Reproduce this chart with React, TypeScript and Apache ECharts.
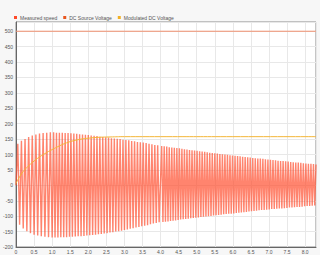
import React, { useEffect, useRef } from "react";
import * as echarts from "echarts";

const seriesNames = ["Measured speed", "DC Source Voltage", "Modulated DC Voltage"];

const xTicks = [0, 0.5, 1.0, 1.5, 2.0, 2.5, 3.0, 3.5, 4.0, 4.5, 5.0, 5.5, 6.0, 6.5, 7.0, 7.5, 8.0];

// Measured speed: successive extremes of the oscillation [time, value]
const measuredSpeed: [number, number][] = [
  [0, 0],
  [0.05, 135], [0.1, -128], [0.15, 145], [0.2, -140], [0.25, 150], [0.3, -149],
  [0.35, 157], [0.4, -155], [0.45, 162], [0.5, -160], [0.55, 165], [0.6, -163],
  [0.65, 168], [0.7, -165], [0.75, 170], [0.8, -167], [0.85, 171], [0.9, -168],
  [0.95, 172], [1.0, -169],
  [1.04, 172], [1.08, -169], [1.12, 171], [1.16, -169], [1.2, 171], [1.24, -168],
  [1.28, 171], [1.32, -168], [1.36, 170], [1.4, -168], [1.44, 170], [1.48, -167],
  [1.52, 169], [1.56, -167], [1.6, 168], [1.64, -166], [1.68, 167], [1.72, -165],
  [1.76, 166], [1.8, -165], [1.84, 165], [1.88, -164], [1.92, 164], [1.96, -163],
  [2.0, 163], [2.04, -162], [2.08, 162], [2.12, -161], [2.16, 161], [2.2, -160],
  [2.24, 160], [2.28, -159], [2.32, 158], [2.36, -158], [2.4, 157], [2.44, -156],
  [2.48, 156], [2.52, -155], [2.56, 155], [2.6, -153], [2.64, 153], [2.68, -152],
  [2.72, 152], [2.76, -150], [2.8, 151], [2.84, -149], [2.88, 150], [2.92, -147],
  [2.96, 148], [3.0, -145], [3.04, 147], [3.08, -143], [3.12, 146], [3.16, -141],
  [3.2, 144], [3.24, -139], [3.28, 143], [3.32, -137], [3.36, 141], [3.4, -135],
  [3.44, 140], [3.48, -133], [3.52, 139], [3.56, -131], [3.6, 137], [3.64, -129],
  [3.68, 135], [3.72, -126], [3.76, 133], [3.8, -124], [3.84, 131], [3.88, -122],
  [3.92, 130], [3.96, -120],
  [4.03, 128], [4.065, -119], [4.1, 127], [4.135, -118], [4.17, 126], [4.205, -117],
  [4.24, 124], [4.275, -116], [4.31, 123], [4.345, -115], [4.38, 122], [4.415, -114],
  [4.45, 121], [4.485, -112], [4.52, 120], [4.555, -111], [4.59, 119], [4.625, -110],
  [4.66, 117], [4.695, -109], [4.73, 116], [4.765, -108], [4.8, 115], [4.835, -107],
  [4.87, 114], [4.905, -106], [4.94, 113], [4.975, -105], [5.01, 112], [5.045, -104],
  [5.08, 111], [5.115, -103], [5.15, 110], [5.185, -102], [5.22, 109], [5.255, -101],
  [5.29, 107], [5.325, -100], [5.36, 106], [5.395, -99], [5.43, 105], [5.465, -98],
  [5.5, 104], [5.535, -97], [5.57, 103], [5.605, -96], [5.64, 102], [5.675, -95],
  [5.71, 101], [5.745, -94], [5.78, 100], [5.815, -93], [5.85, 99], [5.885, -92],
  [5.92, 98], [5.955, -92], [5.99, 97], [6.025, -91], [6.06, 96], [6.095, -90],
  [6.13, 95], [6.165, -89], [6.2, 94], [6.235, -88], [6.27, 93], [6.305, -87],
  [6.34, 92], [6.375, -86], [6.41, 91], [6.445, -85], [6.48, 90], [6.515, -84],
  [6.55, 89], [6.585, -83], [6.62, 88], [6.655, -82], [6.69, 87], [6.725, -81],
  [6.76, 87], [6.795, -80], [6.83, 86], [6.865, -80], [6.9, 85], [6.935, -79],
  [6.97, 84], [7.005, -78], [7.04, 83], [7.075, -77], [7.11, 82], [7.145, -77],
  [7.18, 81], [7.215, -76], [7.25, 80], [7.285, -75], [7.32, 79], [7.355, -75],
  [7.39, 79], [7.425, -74], [7.46, 78], [7.495, -73], [7.53, 77], [7.565, -72],
  [7.6, 76], [7.635, -72], [7.67, 75], [7.705, -71], [7.74, 74], [7.775, -70],
  [7.81, 74], [7.845, -70], [7.88, 73], [7.915, -69], [7.95, 72], [7.985, -68],
  [8.02, 71], [8.055, -67], [8.09, 70], [8.125, -67], [8.16, 70], [8.195, -66],
  [8.23, 69], [8.265, -65], [8.3, 68],
];

const dcSourceVoltage: [number, number][] = [
  [0, 500],
  [8.3, 500],
];

const modulatedDcVoltage: [number, number][] = [
  [0, 6], [0.1, 28], [0.2, 45], [0.3, 58], [0.4, 69], [0.5, 79], [0.6, 88],
  [0.7, 96], [0.8, 103], [0.9, 110], [1.0, 116], [1.2, 128], [1.4, 138],
  [1.6, 145], [1.8, 150], [2.0, 153], [2.3, 156], [2.6, 157], [3.0, 158],
  [4.0, 158], [6.0, 158], [8.3, 158],
];

const colors = ["#ff4a2a", "#e8561e", "#f2b024"];

export default function App() {
  const ref = useRef<HTMLDivElement>(null);
  useEffect(() => {
    document.body.style.margin = "0";
    const chart = echarts.init(ref.current!, null, { renderer: "svg" });
    chart.setOption({
      animation: false,
      backgroundColor: "#f7f7f7",
      textStyle: { fontFamily: "Liberation Sans, Arial, sans-serif" },
      legend: {
        left: 14,
        top: 15,
        icon: "rect",
        itemWidth: 3,
        itemHeight: 3,
        itemGap: 6,
        padding: 0,
        textStyle: { fontSize: 5, color: "#555", padding: [0, 0, 0, -2] },
        data: seriesNames,
      },
      grid: {
        left: 15,
        right: 4,
        top: 22,
        bottom: 8,
        show: true,
        backgroundColor: "#ffffff",
        borderColor: "#8a8a8a",
        borderWidth: 1,
      },
      xAxis: {
        type: "value",
        min: 0,
        max: 8.3,
        interval: 0.5,
        axisLine: { show: true, onZero: false, lineStyle: { color: "#666" } },
        axisTick: { show: false },
        splitLine: { show: true, lineStyle: { color: "#e8e8e8", width: 1 } },
        axisLabel: {
          fontSize: 5,
          color: "#555",
          margin: 2,
          showMaxLabel: false,
          formatter: (v: number) => (xTicks.indexOf(v) === 0 ? "0" : v.toFixed(1)),
        },
      },
      yAxis: {
        type: "value",
        min: -200,
        max: 530,
        interval: 50,
        axisLine: { show: true, onZero: false, lineStyle: { color: "#666" } },
        axisTick: { show: false },
        splitLine: { show: true, lineStyle: { color: "#e8e8e8", width: 1 } },
        axisLabel: { fontSize: 5, color: "#555", margin: 3, showMaxLabel: false },
      },
      series: [
        {
          name: seriesNames[0],
          type: "line",
          data: measuredSpeed,
          showSymbol: false,
          color: colors[0],
          lineStyle: { width: 1.4, color: "#ff5030", opacity: 0.7 },
          z: 2,
        },
        {
          name: seriesNames[1],
          type: "line",
          data: dcSourceVoltage,
          showSymbol: false,
          color: colors[1],
          lineStyle: { width: 1, color: "#f09070" },
          z: 3,
        },
        {
          name: seriesNames[2],
          type: "line",
          data: modulatedDcVoltage,
          showSymbol: false,
          smooth: true,
          color: colors[2],
          lineStyle: { width: 1, color: "#f4b638" },
          z: 4,
        },
      ],
    });
    return () => chart.dispose();
  }, []);
  return <div ref={ref} style={{ position: "fixed", left: 0, top: 0, width: 320, height: 255 }} />;
}
